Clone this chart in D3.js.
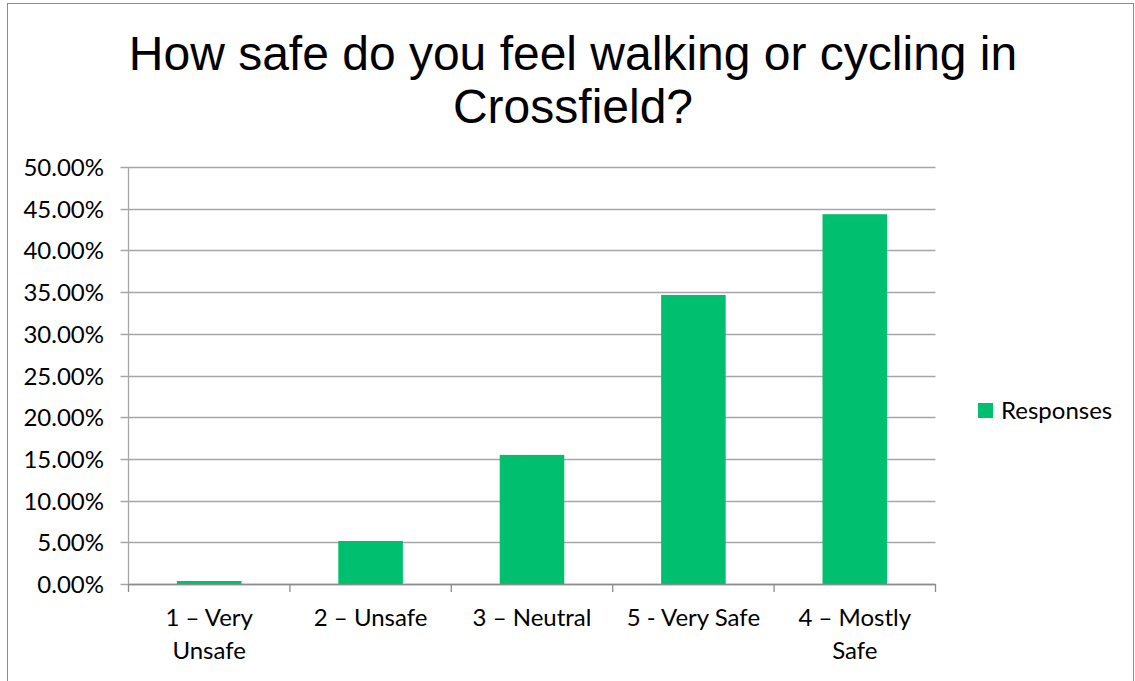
<!DOCTYPE html>
<html>
<head>
<meta charset="utf-8">
<script src="https://cdn.jsdelivr.net/npm/d3@7"></script>
<style>
  body { margin: 0; background: #fff; }
  svg { display: block; }
</style>
</head>
<body>
<div class="chart-container"></div>
<script>
// --- Data ---
const titleLines = ["How safe do you feel walking or cycling in", "Crossfield?"];
const categories = ["1 \u2013 Very Unsafe", "2 \u2013 Unsafe", "3 \u2013 Neutral", "5 - Very Safe", "4 \u2013 Mostly Safe"];
const categoryLines = [["1 \u2013 Very", "Unsafe"], ["2 \u2013 Unsafe"], ["3 \u2013 Neutral"], ["5 - Very Safe"], ["4 \u2013 Mostly", "Safe"]];
const responses = [0.0036, 0.0516, 0.1548, 0.3466, 0.4434];
const yTicks = [0, 0.05, 0.10, 0.15, 0.20, 0.25, 0.30, 0.35, 0.40, 0.45, 0.50];
const seriesName = "Responses";

// --- Layout ---
const w = 1135;
const h = 681;
const plot = { left: 128.5, right: 935.5, top: 167, bottom: 584 };
const barColor = "#00BF6F";
const gridColor = "#a6a6a6";
const labelFont = "Lato, 'Open Sans', sans-serif";

const svg = d3.select(".chart-container")
    .append("svg")
    .attr("width", w)
    .attr("height", h);

// outer chart border
svg.append("rect")
    .attr("x", 7.5)
    .attr("y", 3.5)
    .attr("width", 1126)
    .attr("height", 700)
    .attr("fill", "none")
    .attr("stroke", "#8c8c8c")
    .attr("stroke-width", 1);

// title
svg.append("text")
    .attr("x", 573)
    .attr("y", 70)
    .attr("text-anchor", "middle")
    .attr("font-family", "'Liberation Sans', Arial, sans-serif")
    .attr("font-size", "48px")
    .attr("fill", "#000")
    .selectAll("tspan")
    .data(titleLines)
    .enter()
    .append("tspan")
    .attr("x", 573)
    .attr("dy", function (d, i) { return i === 0 ? 0 : 53; })
    .text(function (d) { return d; });

// scales
const xScale = d3.scaleBand()
    .domain(categories)
    .range([plot.left, plot.right])
    .paddingInner(0.6)
    .paddingOuter(0.3);

const xBand = d3.scaleBand()
    .domain(categories)
    .range([plot.left, plot.right]);

const yScale = d3.scaleLinear()
    .domain([0, 0.5])
    .range([plot.bottom, plot.top]);

// gridlines
svg.append("g")
    .selectAll("line")
    .data(yTicks)
    .enter()
    .append("line")
    .attr("x1", plot.left - 8)
    .attr("x2", plot.right)
    .attr("y1", function (d) { return Math.round(yScale(d)) + 0.5; })
    .attr("y2", function (d) { return Math.round(yScale(d)) + 0.5; })
    .attr("stroke", gridColor)
    .attr("stroke-width", 1.3);

// y axis line
svg.append("line")
    .attr("x1", plot.left)
    .attr("x2", plot.left)
    .attr("y1", plot.top)
    .attr("y2", plot.bottom)
    .attr("stroke", gridColor)
    .attr("stroke-width", 1.3);

// y labels
svg.append("g")
    .selectAll("text")
    .data(yTicks)
    .enter()
    .append("text")
    .attr("x", 104)
    .attr("y", function (d) { return yScale(d) + 9; })
    .attr("text-anchor", "end")
    .attr("font-family", labelFont)
    .attr("font-size", "24px")
    .attr("fill", "#000")
    .text(function (d) { return d3.format(".2%")(d); });

// bars
svg.append("g")
    .selectAll("rect")
    .data(responses)
    .enter()
    .append("rect")
    .attr("x", function (d, i) { return xScale(categories[i]); })
    .attr("y", function (d) { return yScale(d); })
    .attr("width", xScale.bandwidth())
    .attr("height", function (d) { return plot.bottom - yScale(d); })
    .attr("fill", barColor);

// x axis line and ticks
svg.append("line")
    .attr("x1", plot.left)
    .attr("x2", plot.right)
    .attr("y1", plot.bottom + 0.5)
    .attr("y2", plot.bottom + 0.5)
    .attr("stroke", "#8c8c8c")
    .attr("stroke-width", 1.3);

const tickXs = categories.map(function (c) { return xBand(c); }).concat([plot.right]);
svg.append("g")
    .selectAll("line")
    .data(tickXs)
    .enter()
    .append("line")
    .attr("x1", function (d) { return d; })
    .attr("x2", function (d) { return d; })
    .attr("y1", plot.bottom)
    .attr("y2", plot.bottom + 8)
    .attr("stroke", "#8c8c8c")
    .attr("stroke-width", 1.3);

// x labels
const xLabels = svg.append("g")
    .selectAll("text")
    .data(categories)
    .enter()
    .append("text")
    .attr("text-anchor", "middle")
    .attr("font-family", labelFont)
    .attr("font-size", "24px")
    .attr("fill", "#000")
    .attr("y", 626);

xLabels.selectAll("tspan")
    .data(function (d, i) {
        return categoryLines[i].map(function (t) { return { t: t, c: d }; });
    })
    .enter()
    .append("tspan")
    .attr("x", function (d) { return xBand(d.c) + xBand.bandwidth() / 2; })
    .attr("dy", function (d, i) { return i === 0 ? 0 : 33; })
    .text(function (d) { return d.t; });

// legend
const legend = svg.append("g");
legend.append("rect")
    .attr("x", 978)
    .attr("y", 403)
    .attr("width", 15)
    .attr("height", 15)
    .attr("fill", barColor);
legend.append("text")
    .attr("x", 1001)
    .attr("y", 419)
    .attr("font-family", labelFont)
    .attr("font-size", "24px")
    .attr("fill", "#000")
    .text(seriesName);
</script>
</body>
</html>
